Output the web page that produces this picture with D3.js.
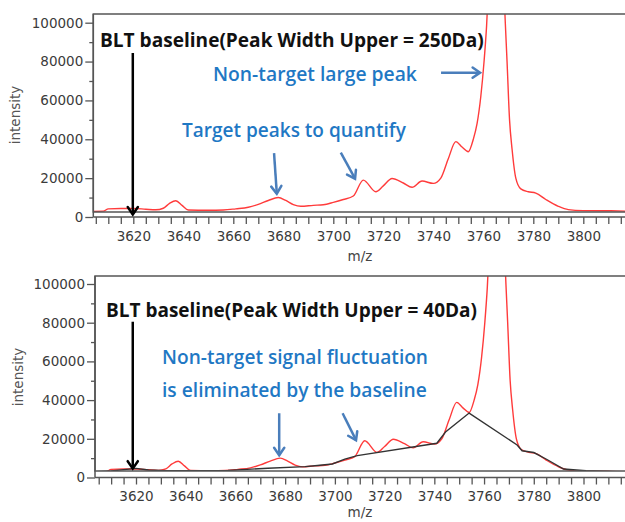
<!DOCTYPE html>
<html><head><meta charset="utf-8">
<script src="https://cdn.jsdelivr.net/npm/d3@7"></script>
<style>
html,body{margin:0;padding:0;background:#fff;}
svg{display:block;}
</style></head>
<body>
<svg id="c" width="625" height="522"></svg>
<script>
// ---- data ----
const mz = [3604,3608,3610,3615,3620,3625,3629,3632,3634.5,3637,3639.5,3642,3650,3656,3661,3666,3670,3674,3678,3681,3684,3687,3692,3696,3700,3704,3708,3712,3717,3720,3723.5,3728,3731.5,3735.5,3740,3743,3746,3749,3751.5,3754,3756,3757.5,3759,3760.3,3761.3,3762.5,3765,3767.5,3768.8,3769.5,3770.5,3771.5,3773,3775,3778,3781,3785,3790,3794,3800,3810,3818];
const intensity = [2900,3000,4200,4400,4400,4000,3700,4500,7000,8400,6000,3600,3500,3600,4200,5000,6500,8500,10000,8500,6400,5500,6000,6300,7500,9000,10800,19000,13000,16000,19800,17500,15300,18500,17300,20000,30000,38800,36000,33600,40000,48000,62000,80000,98000,130000,220000,140000,100000,80000,50000,35000,20000,14500,13000,12300,9000,5500,3800,3300,3200,3000];
const baseMz = [3604,3610,3620,3625,3632,3657,3673,3688,3693,3699,3704,3709,3741,3744.5,3754,3773.3,3775.3,3780,3785.3,3792,3801,3813,3818];
const baseInt = [3000,3400,4700,3900,3500,3700,4800,5600,6200,7000,9500,11300,17700,23500,33300,16800,13800,12900,9300,4400,3500,3000,2700];
const xTicks = [3620,3640,3660,3680,3700,3720,3740,3760,3780,3800];
const yTicks = [0,20000,40000,60000,80000,100000];

const spectrum = mz.map((m,i)=>({x:m,y:intensity[i]}));
const baseline = baseMz.map((m,i)=>({x:m,y:baseInt[i]}));

const svg = d3.select('#c');
const RED = '#ff3b3b', BLUE_T = '#1f78c4', BLUE_A = '#4a7ebb', AX = '#555';

function panel(cfg){
  const g = svg.append('g');
  const x = d3.scaleLinear().domain([3620,3800]).range(cfg.xr);
  const y = d3.scaleLinear().domain([0,100000]).range(cfg.yr);
  const left = cfg.left, right = 640, top = cfg.top, fb = cfg.frameBottom, y0 = y(0);
  const clipId = 'clip'+cfg.id;
  svg.append('clipPath').attr('id',clipId).append('rect')
    .attr('x',left).attr('y',top).attr('width',right-left).attr('height',fb-top);

  // data lines
  const line = d3.line().x(d=>x(d.x)).y(d=>y(d.y)).curve(d3.curveMonotoneX);
  const dg = g.append('g').attr('clip-path',`url(#${clipId})`);
  dg.append('path').datum(spectrum).attr('d',line).attr('fill','none')
    .attr('stroke',RED).attr('stroke-width',1.4);
  if(cfg.baseline){
    dg.append('path').datum(baseline).attr('d',d3.line().x(d=>x(d.x)).y(d=>y(d.y)))
      .attr('fill','none').attr('stroke','#333').attr('stroke-width',1.4);
  }

  // frame
  g.append('rect').attr('x',left).attr('y',top).attr('width',right-left).attr('height',fb-top)
    .attr('fill','none').attr('stroke',AX).attr('stroke-width',1.5);
  // x axis
  const xa = g.append('g').attr('transform',`translate(0,${y0})`);
  xa.call(d3.axisBottom(x).tickValues(d3.range(3605,3820,5)).tickSize(7).tickFormat(''));
  xa.select('.domain').remove();
  xa.selectAll('line').attr('stroke',AX).attr('stroke-width',1.3);
  xa.append('line').attr('x1',left).attr('x2',right).attr('stroke',AX).attr('stroke-width',1.5);
  const xl = g.append('g').attr('transform',`translate(0,${y0})`);
  xl.call(d3.axisBottom(x).tickValues(xTicks).tickSize(0).tickPadding(14).tickFormat(d3.format('d')));
  xl.select('.domain').remove();
  xl.selectAll('text').attr('font-family','DejaVu Sans, Verdana, sans-serif').attr('font-size','13.5px').attr('fill','#3b3b3b');

  // y axis
  const ya = g.append('g').attr('transform',`translate(${left},0)`);
  ya.call(d3.axisLeft(y).tickValues(d3.range(10000,100001,20000)).tickSize(4).tickFormat(''));
  ya.select('.domain').remove();
  ya.selectAll('line').attr('stroke',AX).attr('stroke-width',1.3);
  const yl = g.append('g').attr('transform',`translate(${left},0)`);
  yl.call(d3.axisLeft(y).tickValues(yTicks).tickSize(8).tickPadding(2).tickFormat(d3.format('d')));
  yl.select('.domain').remove();
  yl.selectAll('line').attr('stroke',AX).attr('stroke-width',1.3);
  yl.selectAll('text').attr('font-family','DejaVu Sans, Verdana, sans-serif').attr('font-size','13.5px').attr('fill','#3b3b3b');
  g.append('line').attr('x1',left).attr('x2',left).attr('y1',top).attr('y2',y0)
    .attr('stroke',AX).attr('stroke-width',1.5);

  // axis titles
  g.append('text').attr('transform',`translate(${cfg.ytx},${cfg.yty}) rotate(-90)`)
    .attr('text-anchor','middle').attr('dy','0.35em')
    .attr('font-family','DejaVu Sans, Verdana, sans-serif').attr('font-size','13.5px').attr('fill','#555')
    .text('intensity');
  g.append('text').attr('x',360).attr('y',cfg.mzy).attr('text-anchor','middle').attr('dy','0.35em')
    .attr('font-family','DejaVu Sans, Verdana, sans-serif').attr('font-size','13.5px').attr('fill','#444')
    .text('m/z');

  // annotation texts (auto-fit to measured width)
  cfg.texts.forEach(t=>{
    const el = g.append('text').attr('x',t.x).attr('y',t.cy).attr('dy','0.36em')
      .attr('font-family','Open Sans, sans-serif').attr('font-weight',t.w)
      .attr('font-size','17px').attr('fill',t.c).text(t.s);
    const w = el.node().getComputedTextLength();
    el.attr('font-size',(17*t.width/w).toFixed(2)+'px');
  });
  // arrows in data coordinates
  cfg.arrows.forEach(a=>{
    const x1=x(a.x1), y1=y(a.y1), x2=x(a.x2), y2=y(a.y2);
    const ang = Math.atan2(y2-y1,x2-x1), L=9, H=0.6;
    g.append('line').attr('x1',x1).attr('y1',y1).attr('x2',x2).attr('y2',y2)
      .attr('stroke',a.c).attr('stroke-width',a.sw);
    const p = [[x2-L*Math.cos(ang-H), y2-L*Math.sin(ang-H)],[x2,y2],[x2-L*Math.cos(ang+H), y2-L*Math.sin(ang+H)]];
    g.append('path').attr('d',d3.line()(p)).attr('fill','none').attr('stroke',a.c)
      .attr('stroke-width',a.sw).attr('stroke-linejoin','miter').attr('stroke-linecap','round');
  });
}

panel({id:1, xr:[133.3,583.3], yr:[217,22.7], left:93.3, top:14, frameBottom:212,
  ytx:15, yty:115, mzy:256, baseline:false,
  texts:[
    {s:'BLT baseline(Peak Width Upper = 250Da)', x:100, cy:40.5, width:384, c:'#111', w:700},
    {s:'Non-target large peak', x:213, cy:74, width:204, c:BLUE_T, w:600},
    {s:'Target peaks to quantify', x:182, cy:130, width:224, c:BLUE_T, w:600}
  ],
  arrows:[
    {x1:3619.8,y1:84400,x2:3619.8,y2:1300,c:'#000',sw:2.5},
    {x1:3743.1,y1:74300,x2:3758.7,y2:74300,c:BLUE_A,sw:2.5},
    {x1:3676.3,y1:32900,x2:3677.4,y2:12000,c:BLUE_A,sw:2.5},
    {x1:3703,y1:33100,x2:3708.7,y2:19700,c:BLUE_A,sw:2.5}
  ]});

panel({id:2, xr:[136,583.5], yr:[477.5,284], left:95, top:276, frameBottom:471,
  ytx:18, yty:377, mzy:512, baseline:true,
  texts:[
    {s:'BLT baseline(Peak Width Upper = 40Da)', x:106, cy:310, width:371, c:'#111', w:700},
    {s:'Non-target signal fluctuation', x:162, cy:357, width:266, c:BLUE_T, w:600},
    {s:'is eliminated by the baseline', x:162, cy:390, width:265, c:BLUE_T, w:600}
  ],
  arrows:[
    {x1:3618.7,y1:80500,x2:3618.7,y2:4600,c:'#000',sw:2.5},
    {x1:3677.6,y1:33200,x2:3677.6,y2:11500,c:BLUE_A,sw:2.5},
    {x1:3703.1,y1:33200,x2:3708.5,y2:19300,c:BLUE_A,sw:2.5}
  ]});
</script>
</body></html>
